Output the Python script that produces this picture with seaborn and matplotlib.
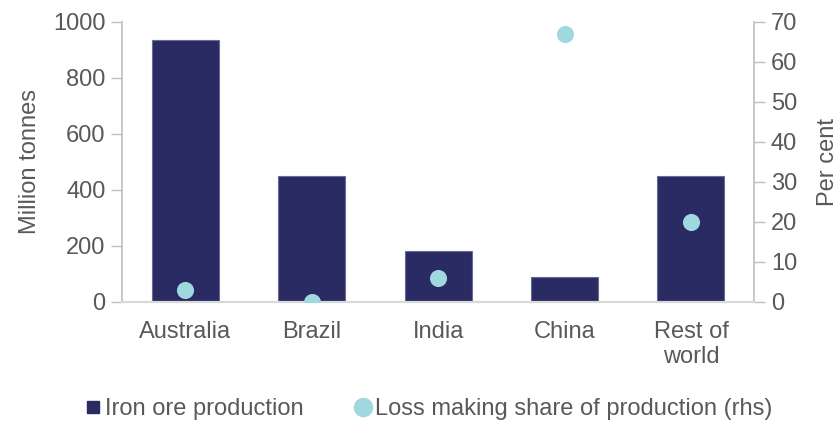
import matplotlib
matplotlib.use("Agg")
import matplotlib.pyplot as plt
import seaborn as sns
import pandas as pd
from matplotlib.lines import Line2D

countries = ["Australia", "Brazil", "India", "China", "Rest of\nworld"]
production_mt = [936, 449, 182, 90, 451]
loss_share_pct = [3, 0, 6, 67, 20]

df = pd.DataFrame({"country": countries,
                   "production": production_mt,
                   "loss": loss_share_pct})

sns.set_theme(style="white")
plt.rcParams["font.family"] = ["Liberation Sans", "DejaVu Sans"]

NAVY = "#2a2b63"
TEAL = "#9fd8de"
GREY_TEXT = "#595959"
AXIS_GREY = "#c0c0c0"

fig = plt.figure(figsize=(8.37, 4.21), dpi=100)
ax = fig.add_axes([0.146, 0.283, 0.755, 0.665])

sns.barplot(data=df, x="country", y="production", color=NAVY, width=0.53,
            saturation=1, edgecolor="#6a6b95", linewidth=0.8, ax=ax, zorder=2)

ax2 = ax.twinx()
sns.stripplot(data=df, x="country", y="loss", color=TEAL, jitter=False,
              size=12.3, linewidth=0, ax=ax2, zorder=3)

ax.set_xlim(-0.5, 4.5)
ax.set_ylim(0, 1000)
ax2.set_ylim(0, 70)
ax.set_yticks(range(0, 1001, 200))
ax2.set_yticks(range(0, 71, 10))

for a in (ax, ax2):
    a.set_xlabel("")
    for s in a.spines.values():
        s.set_visible(False)
    a.spines["bottom"].set_visible(True)
    a.spines["bottom"].set_color("#d9d9d9")
    a.spines["bottom"].set_linewidth(1.5)
    a.tick_params(axis="both", labelsize=17, colors=GREY_TEXT, length=0)

ax.spines["left"].set_visible(True)
ax.spines["left"].set_color(AXIS_GREY)
ax2.spines["right"].set_visible(True)
ax2.spines["right"].set_color(AXIS_GREY)
ax.tick_params(axis="y", length=8, width=1, color=AXIS_GREY, pad=4)
ax2.tick_params(axis="y", length=8, width=1, color=AXIS_GREY, pad=4)
ax.tick_params(axis="x", pad=14)
ax2.tick_params(axis="x", labelbottom=False)
for lbl in ax.get_xticklabels():
    lbl.set_linespacing(1.15)

ax.set_ylabel("Million tonnes", fontsize=17, color=GREY_TEXT, labelpad=9)
ax2.set_ylabel("Per cent", fontsize=17, color=GREY_TEXT, labelpad=14)

for a in (ax, ax2):
    a.grid(False)
    a.set_facecolor("none")

handles = [
    Line2D([0], [0], marker="s", linestyle="none", markersize=9,
           markerfacecolor=NAVY, markeredgecolor=NAVY),
    Line2D([0], [0], marker="o", linestyle="none", markersize=13,
           markerfacecolor=TEAL, markeredgecolor=TEAL),
]
labels = ["Iron ore production", "Loss making share of production (rhs)"]
leg = fig.legend(handles, labels, loc="lower center", ncol=2, frameon=False,
                 fontsize=17, bbox_to_anchor=(0.51, -0.048),
                 handletextpad=0.0, columnspacing=2.0, handlelength=1.0)
for t in leg.get_texts():
    t.set_color(GREY_TEXT)

fig.savefig("out.png", dpi=100)
